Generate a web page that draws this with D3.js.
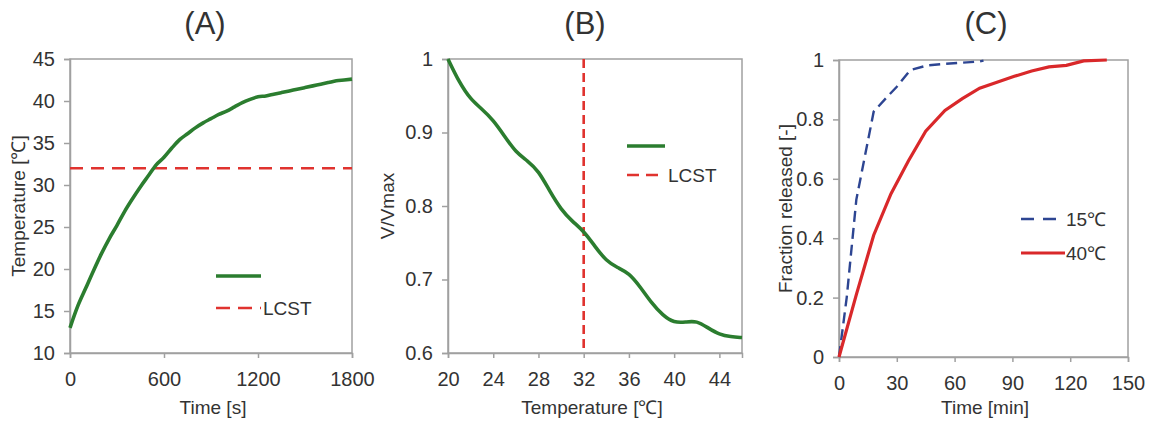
<!DOCTYPE html>
<html><head><meta charset="utf-8">
<script src="https://cdn.jsdelivr.net/npm/d3@7"></script>
<style>body{margin:0;background:#fff}text{font-family:"Liberation Sans",Arial,sans-serif;fill:#333}</style>
</head><body><svg id="c" width="1151" height="421"></svg>
<script>
// Panel A: temperature vs time
const timeA = [0,50,100,150,200,250,300,350,400,450,500,550,600,650,700,750,800,850,900,950,1000,1050,1100,1150,1200,1250,1300,1350,1400,1450,1500,1550,1600,1650,1700,1750,1800];
const tempA = [13.0,15.6,17.7,19.8,21.8,23.6,25.2,26.9,28.4,29.8,31.1,32.4,33.3,34.4,35.4,36.1,36.8,37.4,37.9,38.4,38.8,39.3,39.8,40.2,40.5,40.6,40.8,41.0,41.2,41.4,41.6,41.8,42.0,42.2,42.4,42.5,42.6];
const lcst = 32;
const xTicksA = [0,600,1200,1800];
const yTicksA = [10,15,20,25,30,35,40,45];
// Panel B: V/Vmax vs temperature
const tempB = [20,21,22,23,24,25,26,27,28,29,30,31,32,33,34,35,36,37,38,39,40,41,42,43,44,45,46];
const volB  = [1.0,0.968,0.945,0.932,0.917,0.895,0.873,0.862,0.848,0.82,0.795,0.779,0.766,0.745,0.725,0.716,0.709,0.69,0.668,0.651,0.641,0.642,0.644,0.634,0.625,0.622,0.621];
const xTicksB = [20,24,28,32,36,40,44];
const yTicksB = [0.6,0.7,0.8,0.9,1];
// Panel C: fraction released
const time15 = [0,4,9,18,25,30,37,46,55,64,73,75];
const frac15 = [0,0.2,0.53,0.826,0.876,0.91,0.966,0.982,0.987,0.991,0.995,0.998];
const time40 = [0,9,18,27,36,45,55,64,73,82,91,100,109,118,127,139];
const frac40 = [0,0.21,0.41,0.55,0.66,0.76,0.83,0.87,0.905,0.925,0.945,0.963,0.977,0.982,0.997,1.0];
const xTicksC = [0,30,60,90,120,150];
const yTicksC = [0,0.2,0.4,0.6,0.8,1];
const legendA = ["", "LCST"];
const legendC = ["15℃", "40℃"];

const svg = d3.select("#c");
const green = "#2b7d2f", red = "#e0332f", red2 = "#d9282a", blue = "#2d4592";

function frame(box, xd, yd, xt, yt, yfmt, title, titleX, xlab, xlabX, ylab, ylabX) {
  const x = d3.scaleLinear().domain(xd).range([box.x0, box.x1]);
  const y = d3.scaleLinear().domain(yd).range([box.y1, box.y0]);
  const g = svg.append("g");
  g.append("rect").attr("x", box.x0).attr("y", box.y0).attr("width", box.x1-box.x0).attr("height", box.y1-box.y0)
    .attr("fill","none").attr("stroke","#a0a0a0").attr("stroke-width",1.5);
  const ax = g.append("g").attr("transform",`translate(0,${box.y1})`)
    .call(d3.axisBottom(x).tickValues(xt).tickSize(5).tickPadding(14).tickFormat(d3.format("d")));
  const ay = g.append("g").attr("transform",`translate(${box.x0},0)`)
    .call(d3.axisLeft(y).tickValues(yt).tickSize(6).tickPadding(9).tickFormat(yfmt));
  [ax, ay].forEach(a => {
    a.select(".domain").attr("stroke","#a0a0a0").attr("stroke-width",1.5);
    a.selectAll(".tick line").attr("stroke","#a0a0a0").attr("stroke-width",1.5);
    a.selectAll(".tick text").attr("font-size",20).style("fill","#333");
  });
  svg.append("text").attr("x",titleX).attr("y",34).attr("text-anchor","middle")
    .attr("font-size",31).text(title);
  svg.append("text").attr("x",xlabX).attr("y",414).attr("text-anchor","middle")
    .attr("font-size",19).text(xlab);
  svg.append("text").attr("transform",`translate(${ylabX},${(box.y0+box.y1)/2}) rotate(-90)`)
    .attr("text-anchor","middle").attr("font-size",19).text(ylab);
  return {x, y};
}

// A
const bA = {x0:70, x1:352, y0:59, y1:353};
const A = frame(bA, [0,1800], [10,45], xTicksA, yTicksA, d3.format("d"), "(A)", 205, "Time [s]", 213, "Temperature [℃]", 25);
svg.append("line").attr("x1",A.x(0)).attr("x2",A.x(1800)).attr("y1",A.y(lcst)).attr("y2",A.y(lcst))
  .attr("stroke",red).attr("stroke-width",2.6).attr("stroke-dasharray","13,8");
svg.append("path").datum(timeA.map((t,i)=>[t,tempA[i]]))
  .attr("d", d3.line().x(d=>A.x(d[0])).y(d=>A.y(d[1])).curve(d3.curveMonotoneX))
  .attr("fill","none").attr("stroke",green).attr("stroke-width",3.6);
svg.append("line").attr("x1",216).attr("x2",261).attr("y1",276).attr("y2",276).attr("stroke",green).attr("stroke-width",3.6);
svg.append("line").attr("x1",216).attr("x2",261).attr("y1",308).attr("y2",308).attr("stroke",red).attr("stroke-width",2.6).attr("stroke-dasharray","14,8");
svg.append("text").attr("x",263).attr("y",315).attr("font-size",19).text(legendA[1]);

// B
const bB = {x0:448, x1:742, y0:59, y1:353};
const B = frame(bB, [20,46], [0.6,1], xTicksB, yTicksB, d=> d===1 ? "1" : d3.format(".1f")(d), "(B)", 585, "Temperature [℃]", 592, "V/Vmax", 394);
svg.append("line").attr("x1",B.x(lcst)).attr("x2",B.x(lcst)).attr("y1",B.y(1)).attr("y2",B.y(0.6))
  .attr("stroke",red).attr("stroke-width",2.6).attr("stroke-dasharray","9,5");
svg.append("path").datum(tempB.map((t,i)=>[t,volB[i]]))
  .attr("d", d3.line().x(d=>B.x(d[0])).y(d=>B.y(d[1])).curve(d3.curveBasis))
  .attr("fill","none").attr("stroke",green).attr("stroke-width",3.6);
svg.append("line").attr("x1",627).attr("x2",665).attr("y1",146).attr("y2",146).attr("stroke",green).attr("stroke-width",3.6);
svg.append("line").attr("x1",627).attr("x2",665).attr("y1",175).attr("y2",175).attr("stroke",red).attr("stroke-width",2.6).attr("stroke-dasharray","12,7");
svg.append("text").attr("x",668).attr("y",182).attr("font-size",19).text(legendA[1]);

// C
const bC = {x0:839, x1:1128, y0:60, y1:357};
const C = frame(bC, [0,150], [0,1], xTicksC, yTicksC, d=> (d===0||d===1) ? String(d) : d3.format(".1f")(d), "(C)", 986, "Time [min]", 985, "Fraction released [-]", 792);
svg.append("path").datum(time15.map((t,i)=>[t,frac15[i]]))
  .attr("d", d3.line().x(d=>C.x(d[0])).y(d=>C.y(d[1])))
  .attr("fill","none").attr("stroke",blue).attr("stroke-width",2.4).attr("stroke-dasharray","11,6");
svg.append("path").datum(time40.map((t,i)=>[t,frac40[i]]))
  .attr("d", d3.line().x(d=>C.x(d[0])).y(d=>C.y(d[1])))
  .attr("fill","none").attr("stroke",red2).attr("stroke-width",3.2);
svg.append("line").attr("x1",1021).attr("x2",1065).attr("y1",219).attr("y2",219).attr("stroke",blue).attr("stroke-width",2.4).attr("stroke-dasharray","13,9");
svg.append("line").attr("x1",1021).attr("x2",1065).attr("y1",253).attr("y2",253).attr("stroke",red2).attr("stroke-width",3.2);
svg.append("text").attr("x",1066).attr("y",226).attr("font-size",19).text(legendC[0]);
svg.append("text").attr("x",1066).attr("y",260).attr("font-size",19).text(legendC[1]);
</script></body></html>
